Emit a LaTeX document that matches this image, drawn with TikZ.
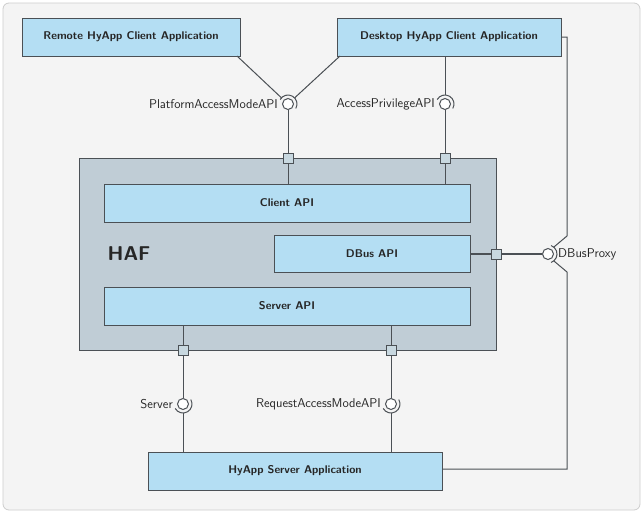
\documentclass[tikz,border=0pt]{standalone}
\usetikzlibrary{calc}
\definecolor{bgc}{RGB}{244,244,244}
\definecolor{bgborder}{RGB}{205,205,205}
\definecolor{boxblue}{RGB}{180,222,243}
\definecolor{hafc}{RGB}{192,205,214}
\definecolor{portc}{RGB}{200,216,224}
\definecolor{linec}{RGB}{75,80,85}
\tikzset{
  appbox/.style={draw=linec, line width=1pt, fill=boxblue, inner sep=0pt, font=\sffamily\bfseries\fontsize{11.2}{13}\selectfont, text=black!85},
  hafbox/.style={draw=linec, line width=1pt, fill=hafc, inner sep=0pt},
  portbox/.style={draw=linec, line width=0.9pt, fill=portc, minimum size=10pt, inner sep=0pt},
  ball/.style={circle, draw=linec, line width=1pt, fill=white, minimum size=11pt, inner sep=0pt},
  conn/.style={draw=linec, line width=1pt},
  lbl/.style={font=\sffamily\fontsize{12.8}{15}\selectfont, text=black!85, inner sep=1pt}
}
\begin{document}
\begin{tikzpicture}[x=1pt,y=1pt]
\useasboundingbox (0,0) rectangle (643,-514);
\draw[fill=bgc, draw=bgborder, line width=0.8pt, rounded corners=6pt] (3,-3) rectangle (640,-510);

% applications
\node[appbox, minimum width=218pt, minimum height=38pt] (remote) at (131,-37) {Remote HyApp Client Application};
\node[appbox, minimum width=224pt, minimum height=38pt] (desktop) at (449,-37) {Desktop HyApp Client Application};
\node[appbox, minimum width=294pt, minimum height=38pt] (serverapp) at (295,-471) {HyApp Server Application};

% HAF component
\node[hafbox, minimum width=417pt, minimum height=192pt] (haf) at (287.5,-254) {};
\node[font=\sffamily\bfseries\fontsize{20}{24}\selectfont, text=black!85] (haflbl) at (129,-254) {HAF};
\node[appbox, minimum width=366pt, minimum height=38pt] (clientapi) at (287,-203) {Client API};
\node[appbox, minimum width=196pt, minimum height=37pt] (dbusapi) at (372,-254) {DBus API};
\node[appbox, minimum width=366pt, minimum height=38pt] (serverapi) at (287,-306) {Server API};

% ports
\node[portbox] (p1) at (288,-158) {};
\node[portbox] (p2) at (445,-158) {};
\node[portbox] (p3) at (496,-254) {};
\node[portbox] (p4) at (183,-350) {};
\node[portbox] (p5) at (391,-350) {};

% balls
\node[ball] (b1) at (288,-104) {};
\node[ball] (b2) at (445,-104) {};
\node[ball] (b3) at (548,-254) {};
\node[ball] (b4) at (183,-404) {};
\node[ball] (b5) at (391,-404) {};

% sockets
\draw[conn] ($(b1.center)+(-30:9)$) arc (-30:150:9);
\draw[conn] ($(b2.center)+(-30:9)$) arc (-30:150:9);
\draw[conn] ($(b3.center)+(-70:9)$) arc (-70:70:9);
\draw[conn] ($(b4.center)+(210:9)$) arc (210:390:9);
\draw[conn] ($(b5.center)+(210:9)$) arc (210:390:9);

% labels
\node[lbl, anchor=east] (l1) at (279,-104) {PlatformAccessModeAPI};
\node[lbl, anchor=east] (l2) at (436,-104) {AccessPrivilegeAPI};
\node[lbl, anchor=west] (l3) at (557,-254) {DBusProxy};
\node[lbl, anchor=east] (l4) at (174,-404) {Server};
\node[lbl, anchor=east] (l5) at (382,-404) {RequestAccessModeAPI};

% connectors top
\coordinate (rA) at (237,-56);
\coordinate (dA) at (340,-56);
\draw[conn] (rA) -- ($(b1.center)!9pt!(rA)$);
\draw[conn] (dA) -- ($(b1.center)!9pt!(dA)$);
\draw[conn] (desktop.south -| b2) -- ($(b2.center)+(0,9)$);
\draw[conn] (b1) -- (p1) -- (clientapi.north -| p1);
\draw[conn] (b2) -- (p2) -- (clientapi.north -| p2);

% DBus
\draw[draw=linec, line width=1.8pt] (dbusapi.east) -- (p3.west);
\draw[draw=linec, line width=1.8pt] (p3.east) -- (b3.west);
\coordinate (rTop) at (567,-37);
\coordinate (rMid1) at (567,-236);
\coordinate (rMid2) at (567,-272);
\coordinate (rBot) at (567,-469);
\draw[conn] (desktop.east) -- (rTop) -- (rMid1) -- ($(b3.center)+(50:9)$);
\draw[conn] ($(b3.center)+(-50:9)$) -- (rMid2) -- (rBot) -- (serverapp.east |- rBot);

% connectors bottom
\draw[conn] (serverapi.south -| p4) -- (p4) -- (b4);
\draw[conn] (serverapi.south -| p5) -- (p5) -- (b5);
\draw[conn] ($(b4.center)+(0,-9)$) -- (serverapp.north -| b4);
\draw[conn] ($(b5.center)+(0,-9)$) -- (serverapp.north -| b5);
\end{tikzpicture}
\end{document}
